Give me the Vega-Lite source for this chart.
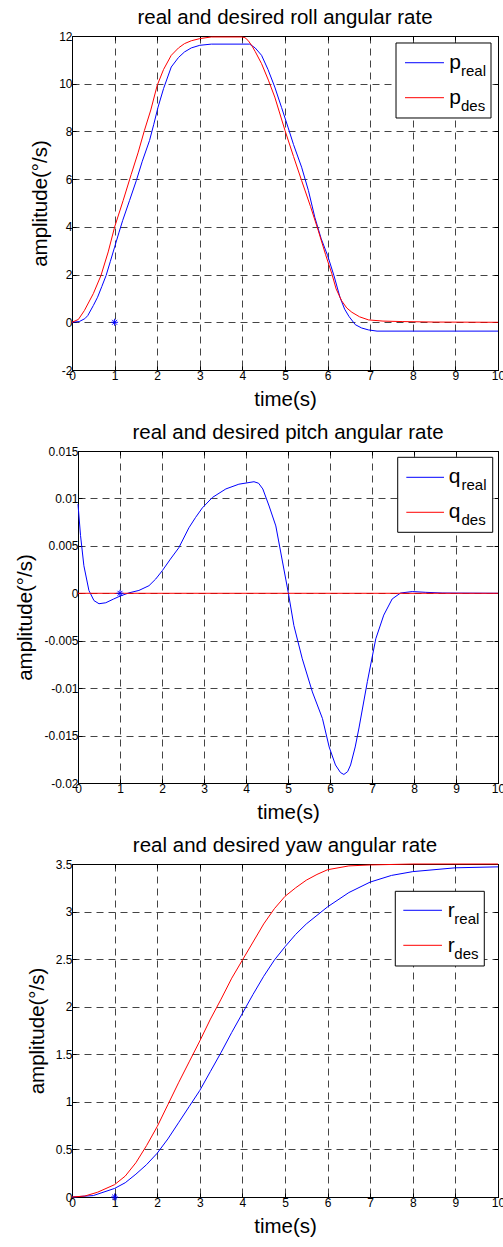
{
  "$schema": "https://vega.github.io/schema/vega-lite/v6.json",
  "background": "white",
  "padding": {"left": 8, "top": 7, "right": 0, "bottom": 0},
  "datasets": {
    "roll": [
      {"t":0,"v":0,"series":"p_real"},{"t":0.17,"v":0.03,"series":"p_real"},{"t":0.3,"v":0.15,"series":"p_real"},{"t":0.37,"v":0.28,"series":"p_real"},{"t":0.5,"v":0.7,"series":"p_real"},{"t":0.6,"v":1.05,"series":"p_real"},{"t":0.7,"v":1.5,"series":"p_real"},{"t":0.8,"v":1.96,"series":"p_real"},{"t":0.9,"v":2.55,"series":"p_real"},{"t":1.0,"v":3.15,"series":"p_real"},{"t":1.1,"v":3.75,"series":"p_real"},{"t":1.19,"v":4.27,"series":"p_real"},{"t":1.35,"v":5.1,"series":"p_real"},{"t":1.51,"v":5.94,"series":"p_real"},{"t":1.65,"v":6.75,"series":"p_real"},{"t":1.82,"v":7.62,"series":"p_real"},{"t":1.92,"v":8.3,"series":"p_real"},{"t":2.02,"v":9.02,"series":"p_real"},{"t":2.15,"v":9.8,"series":"p_real"},{"t":2.33,"v":10.7,"series":"p_real"},{"t":2.5,"v":11.1,"series":"p_real"},{"t":2.64,"v":11.33,"series":"p_real"},{"t":2.8,"v":11.5,"series":"p_real"},{"t":3.0,"v":11.61,"series":"p_real"},{"t":3.27,"v":11.66,"series":"p_real"},{"t":4.17,"v":11.66,"series":"p_real"},{"t":4.3,"v":11.5,"series":"p_real"},{"t":4.45,"v":11.19,"series":"p_real"},{"t":4.6,"v":10.6,"series":"p_real"},{"t":4.76,"v":9.86,"series":"p_real"},{"t":4.92,"v":9.0,"series":"p_real"},{"t":5.07,"v":8.18,"series":"p_real"},{"t":5.2,"v":7.45,"series":"p_real"},{"t":5.39,"v":6.5,"series":"p_real"},{"t":5.55,"v":5.52,"series":"p_real"},{"t":5.7,"v":4.4,"series":"p_real"},{"t":5.85,"v":3.5,"series":"p_real"},{"t":6.0,"v":2.8,"series":"p_real"},{"t":6.15,"v":1.95,"series":"p_real"},{"t":6.29,"v":1.05,"series":"p_real"},{"t":6.4,"v":0.55,"series":"p_real"},{"t":6.5,"v":0.25,"series":"p_real"},{"t":6.65,"v":-0.1,"series":"p_real"},{"t":6.8,"v":-0.24,"series":"p_real"},{"t":6.96,"v":-0.32,"series":"p_real"},{"t":7.16,"v":-0.37,"series":"p_real"},{"t":10,"v":-0.37,"series":"p_real"},
      {"t":0,"v":0,"series":"p_des"},{"t":0.15,"v":0.12,"series":"p_des"},{"t":0.29,"v":0.49,"series":"p_des"},{"t":0.5,"v":1.2,"series":"p_des"},{"t":0.68,"v":1.96,"series":"p_des"},{"t":0.85,"v":2.95,"series":"p_des"},{"t":1.0,"v":3.99,"series":"p_des"},{"t":1.2,"v":5.1,"series":"p_des"},{"t":1.39,"v":6.2,"series":"p_des"},{"t":1.55,"v":7.1,"series":"p_des"},{"t":1.7,"v":8.04,"series":"p_des"},{"t":1.85,"v":8.9,"series":"p_des"},{"t":2.0,"v":9.93,"series":"p_des"},{"t":2.15,"v":10.6,"series":"p_des"},{"t":2.33,"v":11.19,"series":"p_des"},{"t":2.5,"v":11.5,"series":"p_des"},{"t":2.64,"v":11.68,"series":"p_des"},{"t":2.8,"v":11.8,"series":"p_des"},{"t":3.0,"v":11.89,"series":"p_des"},{"t":3.27,"v":11.96,"series":"p_des"},{"t":3.98,"v":11.96,"series":"p_des"},{"t":4.06,"v":11.93,"series":"p_des"},{"t":4.13,"v":11.82,"series":"p_des"},{"t":4.22,"v":11.6,"series":"p_des"},{"t":4.3,"v":11.35,"series":"p_des"},{"t":4.45,"v":10.84,"series":"p_des"},{"t":4.61,"v":10.15,"series":"p_des"},{"t":4.76,"v":9.44,"series":"p_des"},{"t":5.0,"v":8.04,"series":"p_des"},{"t":5.2,"v":6.95,"series":"p_des"},{"t":5.39,"v":5.94,"series":"p_des"},{"t":5.6,"v":4.85,"series":"p_des"},{"t":5.78,"v":3.85,"series":"p_des"},{"t":5.95,"v":2.85,"series":"p_des"},{"t":6.1,"v":2.03,"series":"p_des"},{"t":6.2,"v":1.4,"series":"p_des"},{"t":6.33,"v":0.9,"series":"p_des"},{"t":6.45,"v":0.6,"series":"p_des"},{"t":6.57,"v":0.42,"series":"p_des"},{"t":6.75,"v":0.23,"series":"p_des"},{"t":6.96,"v":0.1,"series":"p_des"},{"t":7.3,"v":0.05,"series":"p_des"},{"t":7.75,"v":0.03,"series":"p_des"},{"t":8.5,"v":0.01,"series":"p_des"},{"t":10,"v":0,"series":"p_des"}
    ],
    "pitch": [
      {"t":0,"v":0.0094,"series":"q_real"},{"t":0.06,"v":0.0061,"series":"q_real"},{"t":0.14,"v":0.0029,"series":"q_real"},{"t":0.26,"v":0.0003,"series":"q_real"},{"t":0.38,"v":-0.00077,"series":"q_real"},{"t":0.5,"v":-0.0011,"series":"q_real"},{"t":0.66,"v":-0.001,"series":"q_real"},{"t":0.85,"v":-0.0006,"series":"q_real"},{"t":1.0,"v":-0.0003,"series":"q_real"},{"t":1.21,"v":0.00004,"series":"q_real"},{"t":1.45,"v":0.0003,"series":"q_real"},{"t":1.69,"v":0.0008,"series":"q_real"},{"t":1.85,"v":0.0015,"series":"q_real"},{"t":2.01,"v":0.0024,"series":"q_real"},{"t":2.2,"v":0.0036,"series":"q_real"},{"t":2.4,"v":0.0048,"series":"q_real"},{"t":2.64,"v":0.0069,"series":"q_real"},{"t":2.8,"v":0.008,"series":"q_real"},{"t":2.96,"v":0.009,"series":"q_real"},{"t":3.2,"v":0.0101,"series":"q_real"},{"t":3.52,"v":0.011,"series":"q_real"},{"t":3.83,"v":0.0115,"series":"q_real"},{"t":4.19,"v":0.01176,"series":"q_real"},{"t":4.3,"v":0.0116,"series":"q_real"},{"t":4.4,"v":0.011,"series":"q_real"},{"t":4.55,"v":0.0092,"series":"q_real"},{"t":4.71,"v":0.0071,"series":"q_real"},{"t":4.87,"v":0.0033,"series":"q_real"},{"t":5.01,"v":0,"series":"q_real"},{"t":5.14,"v":-0.0034,"series":"q_real"},{"t":5.34,"v":-0.0069,"series":"q_real"},{"t":5.58,"v":-0.0104,"series":"q_real"},{"t":5.82,"v":-0.0132,"series":"q_real"},{"t":5.98,"v":-0.0162,"series":"q_real"},{"t":6.13,"v":-0.0181,"series":"q_real"},{"t":6.25,"v":-0.0189,"series":"q_real"},{"t":6.33,"v":-0.0191,"series":"q_real"},{"t":6.42,"v":-0.0188,"series":"q_real"},{"t":6.49,"v":-0.0181,"series":"q_real"},{"t":6.6,"v":-0.0162,"series":"q_real"},{"t":6.69,"v":-0.0142,"series":"q_real"},{"t":6.89,"v":-0.0093,"series":"q_real"},{"t":7.09,"v":-0.0048,"series":"q_real"},{"t":7.28,"v":-0.0023,"series":"q_real"},{"t":7.48,"v":-0.0006,"series":"q_real"},{"t":7.68,"v":0.00003,"series":"q_real"},{"t":7.96,"v":0.00018,"series":"q_real"},{"t":8.28,"v":0.0001,"series":"q_real"},{"t":8.67,"v":0.00003,"series":"q_real"},{"t":10,"v":0,"series":"q_real"},
      {"t":0,"v":0,"series":"q_des"},{"t":10,"v":0,"series":"q_des"}
    ],
    "yaw": [
      {"t":0,"v":0,"series":"r_real"},{"t":0.5,"v":0.015,"series":"r_real"},{"t":1.0,"v":0.09,"series":"r_real"},{"t":1.25,"v":0.15,"series":"r_real"},{"t":1.5,"v":0.24,"series":"r_real"},{"t":1.75,"v":0.34,"series":"r_real"},{"t":2.0,"v":0.46,"series":"r_real"},{"t":2.25,"v":0.61,"series":"r_real"},{"t":2.5,"v":0.78,"series":"r_real"},{"t":2.75,"v":0.95,"series":"r_real"},{"t":3.0,"v":1.12,"series":"r_real"},{"t":3.25,"v":1.32,"series":"r_real"},{"t":3.5,"v":1.52,"series":"r_real"},{"t":3.75,"v":1.73,"series":"r_real"},{"t":4.0,"v":1.93,"series":"r_real"},{"t":4.25,"v":2.13,"series":"r_real"},{"t":4.5,"v":2.32,"series":"r_real"},{"t":4.75,"v":2.49,"series":"r_real"},{"t":5.0,"v":2.63,"series":"r_real"},{"t":5.25,"v":2.76,"series":"r_real"},{"t":5.5,"v":2.87,"series":"r_real"},{"t":5.75,"v":2.96,"series":"r_real"},{"t":6.0,"v":3.05,"series":"r_real"},{"t":6.5,"v":3.2,"series":"r_real"},{"t":7.0,"v":3.31,"series":"r_real"},{"t":7.5,"v":3.38,"series":"r_real"},{"t":8.0,"v":3.42,"series":"r_real"},{"t":9.0,"v":3.46,"series":"r_real"},{"t":10,"v":3.47,"series":"r_real"},
      {"t":0,"v":0,"series":"r_des"},{"t":0.3,"v":0.01,"series":"r_des"},{"t":0.6,"v":0.05,"series":"r_des"},{"t":1.0,"v":0.13,"series":"r_des"},{"t":1.25,"v":0.22,"series":"r_des"},{"t":1.5,"v":0.36,"series":"r_des"},{"t":1.75,"v":0.54,"series":"r_des"},{"t":2.0,"v":0.74,"series":"r_des"},{"t":2.25,"v":0.97,"series":"r_des"},{"t":2.5,"v":1.2,"series":"r_des"},{"t":2.75,"v":1.42,"series":"r_des"},{"t":3.0,"v":1.64,"series":"r_des"},{"t":3.25,"v":1.87,"series":"r_des"},{"t":3.5,"v":2.08,"series":"r_des"},{"t":3.75,"v":2.3,"series":"r_des"},{"t":4.0,"v":2.49,"series":"r_des"},{"t":4.25,"v":2.68,"series":"r_des"},{"t":4.5,"v":2.87,"series":"r_des"},{"t":4.75,"v":3.03,"series":"r_des"},{"t":5.0,"v":3.16,"series":"r_des"},{"t":5.25,"v":3.25,"series":"r_des"},{"t":5.5,"v":3.33,"series":"r_des"},{"t":5.75,"v":3.39,"series":"r_des"},{"t":6.0,"v":3.44,"series":"r_des"},{"t":6.5,"v":3.48,"series":"r_des"},{"t":7.0,"v":3.49,"series":"r_des"},{"t":8.0,"v":3.5,"series":"r_des"},{"t":10,"v":3.5,"series":"r_des"}
    ]
  },
  "concat": [
    {
      "concat": [
        {"width": 19, "height": 1, "data": {"values": [{}]}, "mark": {"type": "point", "opacity": 0}, "view": {"stroke": null}},
        {
          "title": "real and desired roll angular rate",
          "width": 426, "height": 334,
          "resolve": {"axis": {"x": "independent", "y": "independent"}},
          "layer": [
            {"data": {"name": "roll"}, "mark": {"type": "line", "strokeWidth": 1},
             "encoding": {
               "x": {"field": "t", "type": "quantitative", "scale": {"domain": [0, 10], "nice": false}, "axis": {"values": [0,1,2,3,4,5,6,7,8,9,10], "title": "time(s)"}},
               "y": {"field": "v", "type": "quantitative", "scale": {"domain": [-2, 12], "nice": false, "zero": false}, "axis": {"values": [-2,0,2,4,6,8,10,12], "title": "amplitude(°/s)", "labelExpr": "replace(datum.label, '−', '-')"}},
               "color": {"field": "series", "type": "nominal", "scale": {"domain": ["p_real", "p_des"], "range": ["#0000ff", "#ff0000"]}, "legend": null}
             }},
            {"data": {"values": [{"t": 1, "v": 0}]}, "mark": {"type": "point", "shape": "M-1,0L1,0M0,-1L0,1M-0.7,-0.7L0.7,0.7M-0.7,0.7L0.7,-0.7", "size": 49, "stroke": "#0000ff", "strokeWidth": 1, "filled": false, "opacity": 1},
             "encoding": {
               "x": {"field": "t", "type": "quantitative", "axis": {"orient": "top", "labels": false, "grid": false, "title": null, "values": [0,1,2,3,4,5,6,7,8,9,10]}},
               "y": {"field": "v", "type": "quantitative", "axis": {"orient": "right", "labels": false, "grid": false, "title": null, "values": [-2,0,2,4,6,8,10,12]}}
             }},
            {"data": {"values": [{}]}, "mark": {"type": "rect", "fill": "white", "stroke": "black", "strokeWidth": 1},
             "encoding": {"x": {"datum": 7.606, "type": "quantitative", "axis": null}, "x2": {"datum": 9.836}, "y": {"datum": 11.707, "type": "quantitative", "axis": null}, "y2": {"datum": 8.563}}},
            {"data": {"values": [{}]}, "mark": {"type": "rule", "stroke": "#0000ff", "strokeWidth": 1},
             "encoding": {"x": {"datum": 7.817, "type": "quantitative", "axis": null}, "x2": {"datum": 8.732}, "y": {"datum": 10.88, "type": "quantitative", "axis": null}}},
            {"data": {"values": [{}]}, "mark": {"type": "rule", "stroke": "#ff0000", "strokeWidth": 1},
             "encoding": {"x": {"datum": 7.817, "type": "quantitative", "axis": null}, "x2": {"datum": 8.732}, "y": {"datum": 9.414, "type": "quantitative", "axis": null}}},
            {"data": {"values": [{}]}, "mark": {"type": "text", "text": "p", "fontSize": 21, "align": "left", "baseline": "alphabetic", "color": "black"},
             "encoding": {"x": {"datum": 8.857, "type": "quantitative", "axis": null}, "y": {"datum": 10.617, "type": "quantitative", "axis": null}}},
            {"data": {"values": [{}]}, "mark": {"type": "text", "text": "real", "fontSize": 15, "align": "left", "baseline": "alphabetic", "color": "black"},
             "encoding": {"x": {"datum": 9.131, "type": "quantitative", "axis": null}, "y": {"datum": 10.323, "type": "quantitative", "axis": null}}},
            {"data": {"values": [{}]}, "mark": {"type": "text", "text": "p", "fontSize": 21, "align": "left", "baseline": "alphabetic", "color": "black"},
             "encoding": {"x": {"datum": 8.857, "type": "quantitative", "axis": null}, "y": {"datum": 9.150, "type": "quantitative", "axis": null}}},
            {"data": {"values": [{}]}, "mark": {"type": "text", "text": "des", "fontSize": 15, "align": "left", "baseline": "alphabetic", "color": "black"},
             "encoding": {"x": {"datum": 9.131, "type": "quantitative", "axis": null}, "y": {"datum": 8.856, "type": "quantitative", "axis": null}}}
          ]
        }
      ],
      "columns": 2,
      "align": "none",
      "spacing": 0
    },
    {
      "concat": [
        {"width": 1, "height": 1, "data": {"values": [{}]}, "mark": {"type": "point", "opacity": 0}, "view": {"stroke": null}},
        {
          "title": "real and desired pitch angular rate",
          "width": 420, "height": 332,
          "resolve": {"axis": {"x": "independent", "y": "independent"}},
          "layer": [
            {"data": {"name": "pitch"}, "mark": {"type": "line", "strokeWidth": 1},
             "encoding": {
               "x": {"field": "t", "type": "quantitative", "scale": {"domain": [0, 10], "nice": false}, "axis": {"values": [0,1,2,3,4,5,6,7,8,9,10], "title": "time(s)"}},
               "y": {"field": "v", "type": "quantitative", "scale": {"domain": [-0.02, 0.015], "nice": false, "zero": false}, "axis": {"values": [-0.02,-0.015,-0.01,-0.005,0,0.005,0.01,0.015], "format": "~g", "title": "amplitude(°/s)", "labelExpr": "replace(datum.label, '−', '-')"}},
               "color": {"field": "series", "type": "nominal", "scale": {"domain": ["q_real", "q_des"], "range": ["#0000ff", "#ff0000"]}, "legend": null}
             }},
            {"data": {"values": [{"t": 1, "v": 0}]}, "mark": {"type": "point", "shape": "M-1,0L1,0M0,-1L0,1M-0.7,-0.7L0.7,0.7M-0.7,0.7L0.7,-0.7", "size": 49, "stroke": "#0000ff", "strokeWidth": 1, "filled": false, "opacity": 1},
             "encoding": {
               "x": {"field": "t", "type": "quantitative", "axis": {"orient": "top", "labels": false, "grid": false, "title": null, "values": [0,1,2,3,4,5,6,7,8,9,10]}},
               "y": {"field": "v", "type": "quantitative", "axis": {"orient": "right", "labels": false, "grid": false, "title": null, "values": [-0.02,-0.015,-0.01,-0.005,0,0.005,0.01,0.015]}}
             }},
            {"data": {"values": [{}]}, "mark": {"type": "rect", "fill": "white", "stroke": "black", "strokeWidth": 1},
             "encoding": {"x": {"datum": 7.612, "type": "quantitative", "axis": null}, "x2": {"datum": 9.874}, "y": {"datum": 0.014336, "type": "quantitative", "axis": null}, "y2": {"datum": 0.006429}}},
            {"data": {"values": [{}]}, "mark": {"type": "rule", "stroke": "#0000ff", "strokeWidth": 1},
             "encoding": {"x": {"datum": 7.817, "type": "quantitative", "axis": null}, "x2": {"datum": 8.714}, "y": {"datum": 0.012227, "type": "quantitative", "axis": null}}},
            {"data": {"values": [{}]}, "mark": {"type": "rule", "stroke": "#ff0000", "strokeWidth": 1},
             "encoding": {"x": {"datum": 7.817, "type": "quantitative", "axis": null}, "x2": {"datum": 8.714}, "y": {"datum": 0.008538, "type": "quantitative", "axis": null}}},
            {"data": {"values": [{}]}, "mark": {"type": "text", "text": "q", "fontSize": 21, "align": "left", "baseline": "alphabetic", "color": "black"},
             "encoding": {"x": {"datum": 8.83, "type": "quantitative", "axis": null}, "y": {"datum": 0.011595, "type": "quantitative", "axis": null}}},
            {"data": {"values": [{}]}, "mark": {"type": "text", "text": "real", "fontSize": 15, "align": "left", "baseline": "alphabetic", "color": "black"},
             "encoding": {"x": {"datum": 9.13, "type": "quantitative", "axis": null}, "y": {"datum": 0.010857, "type": "quantitative", "axis": null}}},
            {"data": {"values": [{}]}, "mark": {"type": "text", "text": "q", "fontSize": 21, "align": "left", "baseline": "alphabetic", "color": "black"},
             "encoding": {"x": {"datum": 8.83, "type": "quantitative", "axis": null}, "y": {"datum": 0.007905, "type": "quantitative", "axis": null}}},
            {"data": {"values": [{}]}, "mark": {"type": "text", "text": "des", "fontSize": 15, "align": "left", "baseline": "alphabetic", "color": "black"},
             "encoding": {"x": {"datum": 9.13, "type": "quantitative", "axis": null}, "y": {"datum": 0.007167, "type": "quantitative", "axis": null}}}
          ]
        }
      ],
      "columns": 2,
      "align": "none",
      "spacing": 0
    },
    {
      "concat": [
        {"width": 15, "height": 1, "data": {"values": [{}]}, "mark": {"type": "point", "opacity": 0}, "view": {"stroke": null}},
        {
          "title": "real and desired yaw angular rate",
          "width": 426, "height": 333,
          "resolve": {"axis": {"x": "independent", "y": "independent"}},
          "layer": [
            {"data": {"name": "yaw"}, "mark": {"type": "line", "strokeWidth": 1},
             "encoding": {
               "x": {"field": "t", "type": "quantitative", "scale": {"domain": [0, 10], "nice": false}, "axis": {"values": [0,1,2,3,4,5,6,7,8,9,10], "title": "time(s)"}},
               "y": {"field": "v", "type": "quantitative", "scale": {"domain": [0, 3.5], "nice": false}, "axis": {"values": [0,0.5,1,1.5,2,2.5,3,3.5], "format": "~g", "title": "amplitude(°/s)"}},
               "color": {"field": "series", "type": "nominal", "scale": {"domain": ["r_real", "r_des"], "range": ["#0000ff", "#ff0000"]}, "legend": null}
             }},
            {"data": {"values": [{"t": 1, "v": 0}]}, "mark": {"type": "point", "shape": "M-1,0L1,0M0,-1L0,1M-0.7,-0.7L0.7,0.7M-0.7,0.7L0.7,-0.7", "size": 49, "stroke": "#0000ff", "strokeWidth": 1, "filled": false, "opacity": 1, "clip": false},
             "encoding": {
               "x": {"field": "t", "type": "quantitative", "axis": {"orient": "top", "labels": false, "grid": false, "title": null, "values": [0,1,2,3,4,5,6,7,8,9,10]}},
               "y": {"field": "v", "type": "quantitative", "axis": {"orient": "right", "labels": false, "grid": false, "title": null, "values": [0,0.5,1,1.5,2,2.5,3,3.5]}}
             }},
            {"data": {"values": [{}]}, "mark": {"type": "rect", "fill": "white", "stroke": "black", "strokeWidth": 1},
             "encoding": {"x": {"datum": 7.589, "type": "quantitative", "axis": null}, "x2": {"datum": 9.678}, "y": {"datum": 3.213, "type": "quantitative", "axis": null}, "y2": {"datum": 2.428}}},
            {"data": {"values": [{}]}, "mark": {"type": "rule", "stroke": "#0000ff", "strokeWidth": 1},
             "encoding": {"x": {"datum": 7.777, "type": "quantitative", "axis": null}, "x2": {"datum": 8.685}, "y": {"datum": 3.0134, "type": "quantitative", "axis": null}}},
            {"data": {"values": [{}]}, "mark": {"type": "rule", "stroke": "#ff0000", "strokeWidth": 1},
             "encoding": {"x": {"datum": 7.777, "type": "quantitative", "axis": null}, "x2": {"datum": 8.685}, "y": {"datum": 2.6455, "type": "quantitative", "axis": null}}},
            {"data": {"values": [{}]}, "mark": {"type": "text", "text": "r", "fontSize": 21, "align": "left", "baseline": "alphabetic", "color": "black"},
             "encoding": {"x": {"datum": 8.819, "type": "quantitative", "axis": null}, "y": {"datum": 2.94, "type": "quantitative", "axis": null}}},
            {"data": {"values": [{}]}, "mark": {"type": "text", "text": "real", "fontSize": 15, "align": "left", "baseline": "alphabetic", "color": "black"},
             "encoding": {"x": {"datum": 8.974, "type": "quantitative", "axis": null}, "y": {"datum": 2.866, "type": "quantitative", "axis": null}}},
            {"data": {"values": [{}]}, "mark": {"type": "text", "text": "r", "fontSize": 21, "align": "left", "baseline": "alphabetic", "color": "black"},
             "encoding": {"x": {"datum": 8.819, "type": "quantitative", "axis": null}, "y": {"datum": 2.572, "type": "quantitative", "axis": null}}},
            {"data": {"values": [{}]}, "mark": {"type": "text", "text": "des", "fontSize": 15, "align": "left", "baseline": "alphabetic", "color": "black"},
             "encoding": {"x": {"datum": 8.974, "type": "quantitative", "axis": null}, "y": {"datum": 2.498, "type": "quantitative", "axis": null}}}
          ]
        }
      ],
      "columns": 2,
      "align": "none",
      "spacing": 0
    }
  ],
  "columns": 1,
  "spacing": 12,
  "config": {
    "font": "Liberation Sans",
    "view": {"stroke": "black", "strokeWidth": 1},
    "axis": {
      "grid": true, "gridColor": "#444444", "gridDash": [7, 5], "gridWidth": 1, "gridOpacity": 1,
      "domainColor": "black", "domainWidth": 1,
      "tickColor": "black", "tickSize": -4, "tickWidth": 1,
      "labelFont": "Liberation Sans", "labelFontSize": 12, "labelColor": "black", "labelPadding": 4,
      "labelFlush": false, "labelOverlap": false,
      "titleFont": "Liberation Sans", "titleFontSize": 20.5, "titleFontWeight": "normal", "titleColor": "black", "titlePadding": 8
    },
    "title": {"font": "Liberation Sans", "fontSize": 20.5, "fontWeight": "normal", "color": "black", "offset": 2, "anchor": "middle"},
    "text": {"font": "Liberation Sans"}
  }
}
